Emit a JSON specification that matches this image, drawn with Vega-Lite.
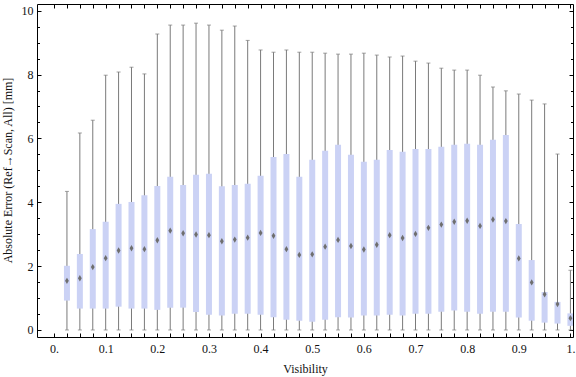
{
  "$schema": "https://vega.github.io/schema/vega-lite/v6.json",
  "width": 536,
  "height": 333,
  "autosize": "none",
  "padding": {"left": 37, "top": 4, "right": 3, "bottom": 40},
  "background": "white",
  "config": {
    "view": {"stroke": null},
    "axis": {
      "labelFont": "Liberation Serif",
      "titleFont": "Liberation Serif",
      "labelFontSize": 12,
      "titleFontSize": 12,
      "titleFontWeight": "normal",
      "labelColor": "#111111",
      "titleColor": "#111111",
      "domainColor": "#000000",
      "tickColor": "#000000",
      "domainWidth": 1,
      "tickWidth": 1,
      "grid": false,
      "labelOverlap": false,
      "labelFlush": false
    }
  },
  "data": {
    "values": [
      {"vis": 0.025, "min": 0, "q1": 0.92, "med": 1.54, "q3": 2.01, "max": 4.34},
      {"vis": 0.05, "min": 0, "q1": 0.67, "med": 1.62, "q3": 2.38, "max": 6.17},
      {"vis": 0.075, "min": 0, "q1": 0.67, "med": 1.97, "q3": 3.16, "max": 6.57},
      {"vis": 0.1, "min": 0, "q1": 0.67, "med": 2.25, "q3": 3.39, "max": 7.98},
      {"vis": 0.125, "min": 0, "q1": 0.73, "med": 2.49, "q3": 3.95, "max": 8.08},
      {"vis": 0.15, "min": 0, "q1": 0.67, "med": 2.56, "q3": 4.01, "max": 8.23},
      {"vis": 0.175, "min": 0, "q1": 0.67, "med": 2.53, "q3": 4.22, "max": 8.02},
      {"vis": 0.2, "min": 0, "q1": 0.63, "med": 2.81, "q3": 4.51, "max": 9.27},
      {"vis": 0.225, "min": 0, "q1": 0.70, "med": 3.11, "q3": 4.80, "max": 9.55},
      {"vis": 0.25, "min": 0, "q1": 0.70, "med": 3.03, "q3": 4.54, "max": 9.55},
      {"vis": 0.275, "min": 0, "q1": 0.56, "med": 2.99, "q3": 4.86, "max": 9.61},
      {"vis": 0.3, "min": 0, "q1": 0.48, "med": 2.97, "q3": 4.89, "max": 9.55},
      {"vis": 0.325, "min": 0, "q1": 0.45, "med": 2.78, "q3": 4.50, "max": 9.39},
      {"vis": 0.35, "min": 0, "q1": 0.51, "med": 2.83, "q3": 4.54, "max": 9.52},
      {"vis": 0.375, "min": 0, "q1": 0.51, "med": 2.89, "q3": 4.58, "max": 9.07},
      {"vis": 0.4, "min": 0, "q1": 0.48, "med": 3.04, "q3": 4.83, "max": 8.77},
      {"vis": 0.425, "min": 0, "q1": 0.40, "med": 2.95, "q3": 5.42, "max": 8.70},
      {"vis": 0.45, "min": 0, "q1": 0.32, "med": 2.53, "q3": 5.51, "max": 8.77},
      {"vis": 0.475, "min": 0, "q1": 0.29, "med": 2.35, "q3": 4.80, "max": 8.70},
      {"vis": 0.5, "min": 0, "q1": 0.26, "med": 2.37, "q3": 5.33, "max": 8.70},
      {"vis": 0.525, "min": 0, "q1": 0.32, "med": 2.61, "q3": 5.61, "max": 8.67},
      {"vis": 0.55, "min": 0, "q1": 0.40, "med": 2.82, "q3": 5.80, "max": 8.64},
      {"vis": 0.575, "min": 0, "q1": 0.39, "med": 2.63, "q3": 5.49, "max": 8.64},
      {"vis": 0.6, "min": 0, "q1": 0.45, "med": 2.52, "q3": 5.27, "max": 8.67},
      {"vis": 0.625, "min": 0, "q1": 0.45, "med": 2.67, "q3": 5.33, "max": 8.61},
      {"vis": 0.65, "min": 0, "q1": 0.48, "med": 2.97, "q3": 5.64, "max": 8.55},
      {"vis": 0.675, "min": 0, "q1": 0.45, "med": 2.88, "q3": 5.58, "max": 8.58},
      {"vis": 0.7, "min": 0, "q1": 0.51, "med": 3.01, "q3": 5.67, "max": 8.42},
      {"vis": 0.725, "min": 0, "q1": 0.51, "med": 3.20, "q3": 5.67, "max": 8.36},
      {"vis": 0.75, "min": 0, "q1": 0.57, "med": 3.30, "q3": 5.74, "max": 8.20},
      {"vis": 0.775, "min": 0, "q1": 0.61, "med": 3.39, "q3": 5.80, "max": 8.14},
      {"vis": 0.8, "min": 0, "q1": 0.57, "med": 3.42, "q3": 5.83, "max": 8.14},
      {"vis": 0.825, "min": 0, "q1": 0.51, "med": 3.26, "q3": 5.80, "max": 7.98},
      {"vis": 0.85, "min": 0, "q1": 0.57, "med": 3.46, "q3": 5.96, "max": 7.61},
      {"vis": 0.875, "min": 0, "q1": 0.57, "med": 3.41, "q3": 6.11, "max": 7.49},
      {"vis": 0.9, "min": 0, "q1": 0.39, "med": 2.24, "q3": 3.32, "max": 7.39},
      {"vis": 0.925, "min": 0, "q1": 0.29, "med": 1.49, "q3": 2.19, "max": 7.20},
      {"vis": 0.95, "min": 0, "q1": 0.23, "med": 1.12, "q3": 1.19, "max": 7.08},
      {"vis": 0.975, "min": 0, "q1": 0.20, "med": 0.81, "q3": 0.88, "max": 5.51},
      {"vis": 1.0, "min": 0, "q1": 0.13, "med": 0.37, "q3": 0.52, "max": 1.87}
    ]
  },
  "layer": [
    {
      "mark": {"type": "rule", "color": "#7a7a7a", "strokeWidth": 1, "clip": true},
      "encoding": {
        "x": {
          "field": "vis", "type": "quantitative",
          "scale": {"domain": [-0.033, 1.005], "nice": false, "zero": false, "padding": 0},
          "axis": {
            "orient": "bottom",
            "title": "Visibility",
            "values": [0,0.025,0.05,0.075,0.1,0.125,0.15,0.175,0.2,0.225,0.25,0.275,0.3,0.325,0.35,0.375,0.4,0.425,0.45,0.475,0.5,0.525,0.55,0.575,0.6,0.625,0.65,0.675,0.7,0.725,0.75,0.775,0.8,0.825,0.85,0.875,0.9,0.925,0.95,0.975,1],
            "labelExpr": "abs(datum.value*10 - round(datum.value*10)) < 0.001 ? (datum.value == 0 ? '0.' : (datum.value == 1 ? '1.' : format(datum.value, '.1f'))) : ''",
            "tickSize": -4,
            "labelPadding": 10,
            "titleX": 268,
            "titleY": 35,
            "titleBaseline": "alphabetic",
            "titleAlign": "center"
          }
        },
        "y": {
          "field": "min", "type": "quantitative",
          "scale": {"domain": [-0.22, 10.21], "nice": false, "zero": false, "padding": 0},
          "axis": {
            "orient": "left",
            "title": "Absolute Error (Ref\u2192Scan, All) [mm]",
            "values": [0,0.5,1,1.5,2,2.5,3,3.5,4,4.5,5,5.5,6,6.5,7,7.5,8,8.5,9,9.5,10],
            "labelExpr": "datum.value % 2 == 0 ? format(datum.value, 'd') : ''",
            "tickSize": {"condition": {"test": "datum.value % 2 == 0", "value": -4}, "value": -2.5},
            "labelPadding": 8,
            "titleX": -23,
            "titleY": 166,
            "titleAngle": -90,
            "titleAlign": "center",
            "titleBaseline": "bottom"
          }
        },
        "y2": {"field": "max"}
      }
    },
    {
      "mark": {"type": "tick", "orient": "horizontal", "color": "#7a7a7a", "size": 4, "thickness": 1, "clip": true},
      "encoding": {
        "x": {
          "field": "vis", "type": "quantitative",
          "axis": {
            "orient": "top",
            "title": null,
            "labels": false,
            "values": [0,0.025,0.05,0.075,0.1,0.125,0.15,0.175,0.2,0.225,0.25,0.275,0.3,0.325,0.35,0.375,0.4,0.425,0.45,0.475,0.5,0.525,0.55,0.575,0.6,0.625,0.65,0.675,0.7,0.725,0.75,0.775,0.8,0.825,0.85,0.875,0.9,0.925,0.95,0.975,1],
            "tickSize": -4
          }
        },
        "y": {
          "field": "max", "type": "quantitative",
          "axis": {
            "orient": "right",
            "title": null,
            "labels": false,
            "values": [0,0.5,1,1.5,2,2.5,3,3.5,4,4.5,5,5.5,6,6.5,7,7.5,8,8.5,9,9.5,10],
            "tickSize": {"condition": {"test": "datum.value % 2 == 0", "value": -4}, "value": -2.5}
          }
        }
      }
    },
    {
      "mark": {"type": "tick", "orient": "horizontal", "color": "#7a7a7a", "size": 4, "thickness": 1, "clip": true},
      "encoding": {
        "x": {"field": "vis", "type": "quantitative", "axis": null},
        "y": {"field": "min", "type": "quantitative", "axis": null}
      }
    },
    {
      "mark": {"type": "bar", "color": "#cbd2f5", "size": 6, "clip": true},
      "encoding": {
        "x": {"field": "vis", "type": "quantitative", "axis": null},
        "y": {"field": "q1", "type": "quantitative", "axis": null},
        "y2": {"field": "q3"}
      }
    },
    {
      "mark": {"type": "point", "shape": "M0,-1L0.6,0L0,1L-0.6,0Z", "filled": true, "color": "#6f6f6f", "opacity": 1, "size": 40, "clip": true},
      "encoding": {
        "x": {"field": "vis", "type": "quantitative", "axis": null},
        "y": {"field": "med", "type": "quantitative", "axis": null}
      }
    }
  ]
}
